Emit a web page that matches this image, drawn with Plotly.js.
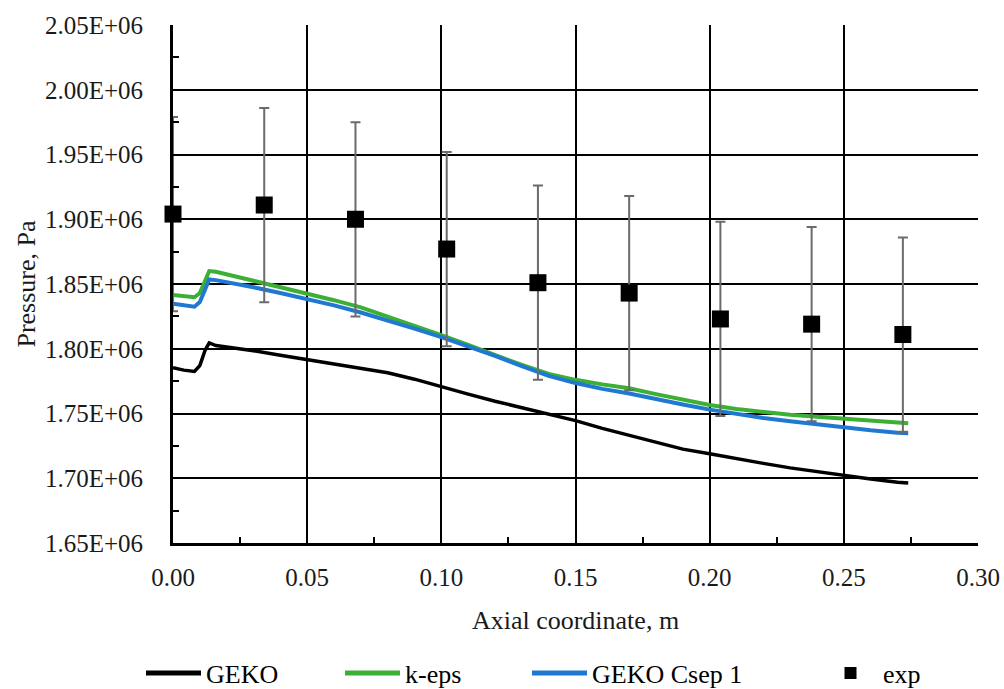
<!DOCTYPE html>
<html>
<head>
<meta charset="utf-8">
<script src="https://cdn.plot.ly/plotly-3.0.1.min.js"></script>
<style>
  html, body { margin: 0; padding: 0; background: #fff; }
  #chart { width: 1004px; height: 689px; }
</style>
</head>
<body>
<div id="chart"></div>
<script>
// Axial positions (m) of the simulated profiles
const xSim = [0, 0.004, 0.008, 0.010, 0.012, 0.0135, 0.016, 0.02, 0.03, 0.04, 0.05, 0.06, 0.07, 0.08, 0.09,
              0.10, 0.11, 0.12, 0.13, 0.14, 0.15, 0.16, 0.17, 0.18, 0.19, 0.20, 0.21, 0.22, 0.23, 0.24,
              0.25, 0.26, 0.27, 0.274];

// Wall pressure, Pa
const pGeko = [1.7853e6, 1.7835e6, 1.7825e6, 1.7870e6, 1.7990e6, 1.8045e6, 1.8025e6, 1.8015e6, 1.7985e6, 1.7950e6,
               1.7915e6, 1.7880e6, 1.7850e6, 1.7815e6, 1.7765e6, 1.7705e6, 1.7650e6, 1.7595e6, 1.7545e6, 1.7495e6,
               1.7445e6, 1.7385e6, 1.7330e6, 1.7275e6, 1.7225e6, 1.7190e6, 1.7150e6, 1.7115e6, 1.7080e6, 1.7050e6,
               1.7022e6, 1.6995e6, 1.6970e6, 1.6963e6];
const pKeps = [1.8415e6, 1.8405e6, 1.8398e6, 1.8430e6, 1.8530e6, 1.8600e6, 1.8595e6, 1.8575e6, 1.8530e6, 1.8480e6,
               1.8430e6, 1.8375e6, 1.8320e6, 1.8250e6, 1.8180e6, 1.8105e6, 1.8030e6, 1.7950e6, 1.7875e6, 1.7805e6,
               1.7760e6, 1.7725e6, 1.7695e6, 1.7650e6, 1.7605e6, 1.7565e6, 1.7535e6, 1.7510e6, 1.7490e6, 1.7475e6,
               1.7460e6, 1.7445e6, 1.7430e6, 1.7425e6];
const pGekoCsep = [1.8348e6, 1.8335e6, 1.8325e6, 1.8360e6, 1.8470e6, 1.8535e6, 1.8530e6, 1.8515e6, 1.8475e6, 1.8430e6,
                   1.8385e6, 1.8335e6, 1.8280e6, 1.8220e6, 1.8155e6, 1.8090e6, 1.8020e6, 1.7945e6, 1.7865e6, 1.7790e6,
                   1.7735e6, 1.7690e6, 1.7655e6, 1.7610e6, 1.7570e6, 1.7530e6, 1.7495e6, 1.7465e6, 1.7440e6, 1.7415e6,
                   1.7390e6, 1.7370e6, 1.7352e6, 1.7347e6];

// Measurements with uncertainty
const xExp = [0, 0.034, 0.068, 0.102, 0.136, 0.170, 0.204, 0.238, 0.272];
const pExp = [1.904e6, 1.911e6, 1.900e6, 1.877e6, 1.851e6, 1.843e6, 1.823e6, 1.819e6, 1.811e6];
const errExp = [75000, 75000, 75000, 75000, 75000, 75000, 75000, 75000, 75000];

// Axis ticks
const xTicks = [0, 0.05, 0.10, 0.15, 0.20, 0.25, 0.30];
const yTicks = [1.65e6, 1.70e6, 1.75e6, 1.80e6, 1.85e6, 1.90e6, 1.95e6, 2.00e6, 2.05e6];
const yTickText = ['1.65E+06', '1.70E+06', '1.75E+06', '1.80E+06', '1.85E+06', '1.90E+06', '1.95E+06', '2.00E+06', '2.05E+06'];

const FONT = 'Liberation Serif';
const INK = '#1a1a1a';
const FS_TICK = 25;
const FS_TEXT = 26;

const traces = [
  { x: xSim, y: pGeko, name: 'GEKO', mode: 'lines', type: 'scatter',
    line: { color: '#000000', width: 3.5 }, legend: 'legend' },
  { x: xSim, y: pKeps, name: 'k-eps', mode: 'lines', type: 'scatter',
    line: { color: '#3cb034', width: 4 }, legend: 'legend2' },
  { x: xSim, y: pGekoCsep, name: 'GEKO Csep 1', mode: 'lines', type: 'scatter',
    line: { color: '#1f78d1', width: 4 }, legend: 'legend3' },
  { x: xExp, y: pExp, name: 'exp', mode: 'markers', type: 'scatter', cliponaxis: false,
    marker: { symbol: 'square', size: 17, color: '#000000' },
    error_y: { type: 'data', array: errExp, visible: true, color: '#6b6b6b', thickness: 2, width: 5 },
    legend: 'legend4' }
];

// Legend boxes sit in a row below the plot area, one per series (container coordinates)
const W = 1004, H = 689;
function leg(px, w) {
  return { x: px / W, y: (H - 673) / H, xref: 'container', yref: 'container',
           xanchor: 'left', yanchor: 'middle', orientation: 'h',
           bgcolor: 'rgba(0,0,0,0)', font: { family: FONT, size: FS_TEXT, color: '#000000' },
           itemsizing: 'constant', itemwidth: w, tracegroupgap: 0 };
}

const layout = {
  width: W, height: H,
  margin: { l: 173, r: 26, t: 25, b: 146, autoexpand: false },
  paper_bgcolor: '#ffffff', plot_bgcolor: '#ffffff',
  font: { family: FONT, size: FS_TEXT, color: INK },
  showlegend: true,
  xaxis: {
    range: [0, 0.30], tickvals: xTicks, tickformat: '.2f', automargin: false,
    tickfont: { family: FONT, size: FS_TICK, color: INK },
    showgrid: true, gridcolor: '#000000', gridwidth: 2,
    showline: true, linecolor: '#000000', linewidth: 3,
    ticks: 'inside', ticklen: 6, tickwidth: 2, tickcolor: '#000000',
    minor: { dtick: 0.025, ticks: 'inside', ticklen: 6, tickwidth: 2, tickcolor: '#000000', showgrid: false },
    ticklabelstandoff: 10,
    zeroline: false,
    title: { text: 'Axial coordinate, m', font: { family: FONT, size: FS_TEXT, color: INK }, standoff: 21 }
  },
  yaxis: {
    range: [1.65e6, 2.05e6], tickvals: yTicks, ticktext: yTickText, automargin: false,
    tickfont: { family: FONT, size: FS_TICK, color: INK },
    showgrid: true, gridcolor: '#000000', gridwidth: 2,
    showline: true, linecolor: '#000000', linewidth: 3,
    ticks: 'inside', ticklen: 6, tickwidth: 2, tickcolor: '#000000',
    minor: { dtick: 25000, tick0: 1.65e6, ticks: 'inside', ticklen: 6, tickwidth: 2, tickcolor: '#000000', showgrid: false },
    ticklabelstandoff: 22,
    zeroline: false,
    title: { text: 'Pressure, Pa', font: { family: FONT, size: FS_TEXT, color: INK }, standoff: 2 }
  },
  legend: leg(141, 55),
  legend2: leg(340, 55),
  legend3: leg(527, 55),
  legend4: leg(818, 55)
};

Plotly.newPlot('chart', traces, layout, { displayModeBar: false, staticPlot: true });
</script>
</body>
</html>
